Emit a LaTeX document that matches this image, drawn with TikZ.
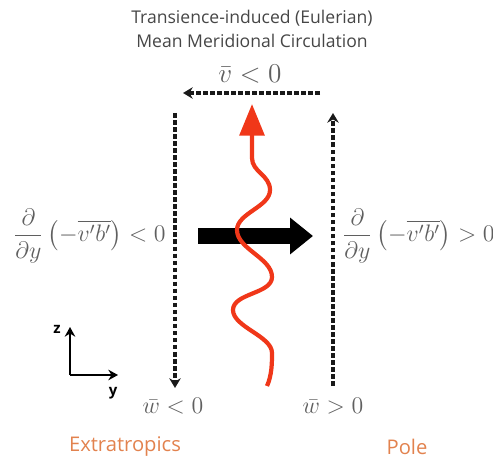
\RequirePackage{fix-cm}
\documentclass[tikz,border=0pt]{standalone}
\usepackage{fontspec}
\setsansfont{Open Sans}
\usepackage{amsmath}
\usetikzlibrary{arrows.meta, positioning}

\definecolor{titlegray}{RGB}{70,70,70}
\definecolor{mathgray}{RGB}{95,95,95}
\definecolor{wavered}{RGB}{240,55,25}
\definecolor{regionorange}{RGB}{226,130,78}

\begin{document}
\begin{tikzpicture}[
    x=0.02cm, y=-0.02cm,
    >=Stealth,
    title/.style={font=\sffamily\fontsize{10}{14}\selectfont, text=titlegray, align=center},
    lbl/.style={font=\fontsize{13.6}{16}\selectfont, text=mathgray, inner sep=0pt},
    region/.style={font=\sffamily\fontsize{11.5}{13}\selectfont, text=regionorange},
    flow/.style={->, dash pattern=on 2.6pt off 1.4pt, line width=2pt, black!90, >={Stealth[length=5.5pt,width=6.5pt]}},
    axis/.style={->, line width=1.6pt, >={Stealth[length=5.5pt,width=6pt]}},
]
    \useasboundingbox (0,0) rectangle (493,462);

    % Title
    \node[title] (title) at (252,29) {Transience-induced (Eulerian)\\Mean Meridional Circulation};

    % Circulation corners
    \coordinate (topR) at (320,93);
    \coordinate (topL) at (183,93);
    \coordinate (leftT) at (175,113);
    \coordinate (leftB) at (175,388);
    \coordinate (rightB) at (333,386);
    \coordinate (rightT) at (333,113);

    % Dashed circulation arrows
    \draw[flow] (topR) -- (topL);
    \draw[flow] (leftT) -- (leftB);
    \draw[flow] (rightB) -- (rightT);

    % Labels of the circulation
    \node[lbl, font=\fontsize{15.5}{18}\selectfont] (vbar) at (250,74) {$\bar{v} < 0$};
    \node[lbl] (wneg) at (173,406) {$\bar{w} < 0$};
    \node[lbl] (wpos) at (333,406) {$\bar{w} > 0$};
    \node[lbl, anchor=east] (dyleft) at (166,236) {$\displaystyle\frac{\partial}{\partial y}\left(-\overline{v'b'}\right) < 0$};
    \node[lbl, anchor=west] (dyright) at (342,236) {$\displaystyle\frac{\partial}{\partial y}\left(-\overline{v'b'}\right) > 0$};

    % Eddy flux
    \coordinate (fluxL) at (198,236);
    \coordinate (fluxR) at (313,236);
    \draw[line width=9.5pt, -{Triangle[length=13pt,width=20pt]}] (fluxL) -- (fluxR);

    % Wave activity
    \draw[wavered, line width=2.4pt, -{Triangle[length=18pt,width=14pt]}]
        (267,386) .. controls (272,375) and (272,362) .. (272,353)
        .. controls (272,336) and (233,327) .. (233,310)
        .. controls (233,293) and (272,294) .. (272,277)
        .. controls (272,258) and (237,249) .. (237,230)
        .. controls (237,213) and (270,207) .. (270,190)
        .. controls (270,175) and (252,172) .. (252,158)
        -- (252,104);

    % Axes
    \coordinate (origin) at (70,375);
    \coordinate (zend) at (70,327);
    \coordinate (yend) at (118,375);
    \draw[axis] (origin) -- (zend);
    \draw[axis] (origin) -- (yend);
    \node[font=\sffamily\bfseries\fontsize{8.5}{9}\selectfont] (zlabel) at (57,329) {z};
    \node[font=\sffamily\bfseries\fontsize{8.5}{9}\selectfont] (ylabel) at (113,393) {y};

    % Regions
    \node[region] (extra) at (125,447) {Extratropics};
    \node[region] (pole) at (407,447) {Pole};

\end{tikzpicture}
\end{document}
